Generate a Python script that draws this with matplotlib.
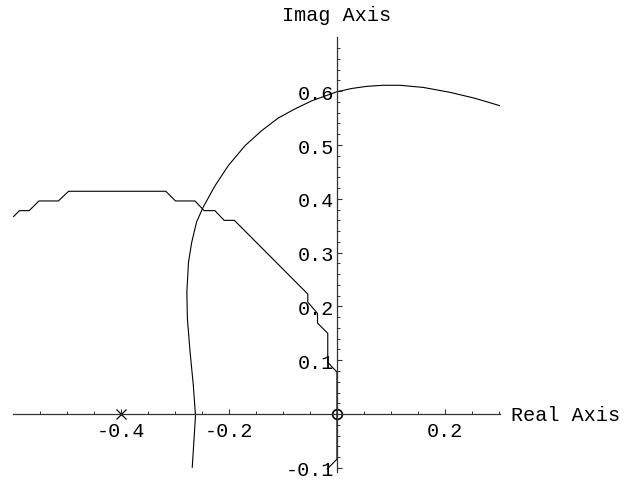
import matplotlib
matplotlib.use("Agg")
import matplotlib.pyplot as plt
from matplotlib.ticker import FixedLocator, FixedFormatter

# Locus branch (smooth arc)
arc_x = [-0.268, -0.262, -0.266, -0.272, -0.277, -0.278, -0.275, -0.269, -0.260,
         -0.248, -0.226, -0.201, -0.170, -0.139, -0.109, -0.078, -0.047, 0.000,
         0.027, 0.055, 0.085, 0.117, 0.160, 0.209, 0.255, 0.302]
arc_y = [-0.099, -0.003, 0.053, 0.115, 0.177, 0.226, 0.282, 0.319, 0.357,
         0.384, 0.424, 0.462, 0.499, 0.527, 0.550, 0.567, 0.582, 0.599,
         0.605, 0.609, 0.611, 0.611, 0.607, 0.598, 0.587, 0.573]

# Stepped boundary curve
step_x = [-0.599, -0.588, -0.570, -0.552, -0.516, -0.497, -0.317, -0.299, -0.263,
          -0.246, -0.226, -0.209, -0.190, -0.054, -0.054, -0.036, -0.036, -0.017,
          -0.017, 0.000, 0.000, -0.018]
step_y = [0.367, 0.378, 0.378, 0.396, 0.396, 0.414, 0.414, 0.396, 0.396,
          0.378, 0.378, 0.360, 0.360, 0.223, 0.208, 0.187, 0.169, 0.150,
          0.096, 0.078, -0.084, -0.102]

# Pole and zero
pole_x, pole_y = [-0.4], [0.0]
zero_x, zero_y = [0.0], [0.0]

x_major = [-0.4, -0.2, 0.2]
x_labels = ["-0.4", "-0.2", "0.2"]
y_major = [-0.1, 0.1, 0.2, 0.3, 0.4, 0.5, 0.6]
y_labels = ["-0.1", "0.1", "0.2", "0.3", "0.4", "0.5", "0.6"]
x_minor = [-0.55, -0.5, -0.45, -0.35, -0.3, -0.25, -0.15, -0.1, -0.05,
           0.05, 0.1, 0.15, 0.25, 0.3]
y_minor = [v / 100 for v in range(-10, 71, 2) if v % 10 != 0]

font = "Liberation Mono"
fs = 14.5
axcol = "#333333"

fig = plt.figure(figsize=(6.35, 4.81), dpi=100)
W, H = 635, 481
x0, x1 = -0.6, 0.302
y0, y1 = -0.107, 0.70
left_px, right_px = 13, 500
top_px, bot_px = 38.4, 472.6
ax = fig.add_axes([left_px / W, 1 - bot_px / H, (right_px - left_px) / W,
                   (bot_px - top_px) / H])
ax.set_xlim(x0, x1)
ax.set_ylim(y0, y1)

ax.plot(arc_x, arc_y, color="black", lw=0.8, solid_joinstyle="round")
ax.plot(step_x, step_y, color="black", lw=0.8)
ax.plot(pole_x, pole_y, marker="x", color="black", ms=7, mew=0.9, ls="none")
ax.plot(zero_x, zero_y, marker="o", mfc="none", mec="black", ms=7, mew=1.2, ls="none")

for s in ("top", "right"):
    ax.spines[s].set_visible(False)
ax.spines["left"].set_position(("data", 0))
ax.spines["bottom"].set_position(("data", 0))
for s in ("left", "bottom"):
    ax.spines[s].set_color(axcol)
    ax.spines[s].set_linewidth(0.9)

ax.xaxis.set_major_locator(FixedLocator(x_major))
ax.xaxis.set_major_formatter(FixedFormatter(x_labels))
ax.xaxis.set_minor_locator(FixedLocator(x_minor))
ax.yaxis.set_major_locator(FixedLocator(y_major))
ax.yaxis.set_major_formatter(FixedFormatter(y_labels))
ax.yaxis.set_minor_locator(FixedLocator(y_minor))

ax.tick_params(which="major", direction="in", length=3.5, width=0.8, color=axcol)
ax.tick_params(which="minor", direction="in", length=2, width=0.7, color=axcol)
ax.tick_params(axis="x", which="major", pad=5)
ax.tick_params(axis="y", which="major", pad=2)

for lab in ax.get_xticklabels() + ax.get_yticklabels():
    lab.set_fontfamily(font)
    lab.set_fontsize(fs)
    lab.set_color("black")

ax.text(x1 + 0.02, 0, "Real Axis", family=font, fontsize=fs,
        ha="left", va="center", clip_on=False)
ax.text(0, 0.743, "Imag Axis", family=font, fontsize=fs,
        ha="center", va="center", clip_on=False)

fig.savefig("out.png", dpi=100)
